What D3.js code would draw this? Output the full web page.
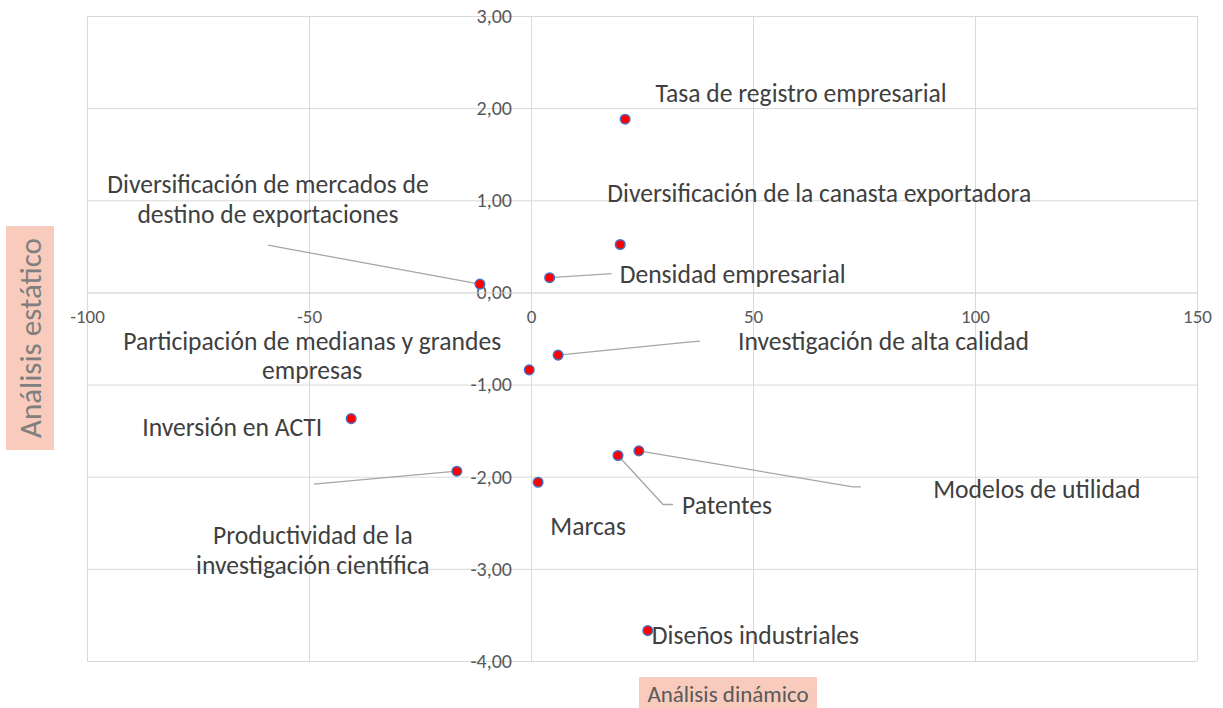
<!DOCTYPE html>
<html>
<head>
<meta charset="utf-8">
<script src="https://cdn.jsdelivr.net/npm/d3@7"></script>
<style>
  body { margin: 0; background: #fff; }
  svg text { font-family: Carlito, "Liberation Sans Narrow", "Open Sans", sans-serif; }
</style>
</head>
<body>
<svg id="chart" width="1223" height="708"></svg>
<script>
// indicator names, dynamic (x) and static (y) scores
const names = [
  'Tasa de registro empresarial',
  'Diversificación de la canasta exportadora',
  'Densidad empresarial',
  'Diversificación de mercados de destino de exportaciones',
  'Investigación de alta calidad',
  'Participación de medianas y grandes empresas',
  'Inversión en ACTI',
  'Productividad de la investigación científica',
  'Marcas',
  'Patentes',
  'Modelos de utilidad',
  'Diseños industriales'
];
const dinamico = [21.2, 20.1, 4.2, -11.5, 6.1, -0.4, -40.5, -16.7, 1.6, 19.6, 24.3, 26.3];
const estatico = [1.88, 0.52, 0.16, 0.09, -0.68, -0.84, -1.37, -1.94, -2.06, -1.77, -1.72, -3.67];

const xTicks = [-100, -50, 0, 50, 100, 150];
const yTicks = [3, 2, 1, 0, -1, -2, -3, -4];

// label text split into lines, as in the original chart
const labelLines = [
  ['Tasa de registro empresarial'],
  ['Diversificación de la canasta exportadora'],
  ['Densidad empresarial'],
  ['Diversificación de mercados de', 'destino de exportaciones'],
  ['Investigación de alta calidad'],
  ['Participación de medianas y grandes', 'empresas'],
  ['Inversión en ACTI'],
  ['Productividad de la', 'investigación científica'],
  ['Marcas'],
  ['Patentes'],
  ['Modelos de utilidad'],
  ['Diseños industriales']
];

const margin = {top: 16, right: 26, bottom: 47, left: 87};
const width = 1223 - margin.left - margin.right;
const height = 708 - margin.top - margin.bottom;

const svg = d3.select('#chart');
const g = svg.append('g').attr('transform', `translate(${margin.left},${margin.top})`);

const x = d3.scaleLinear().domain([-100, 150]).range([0, width]);
const y = d3.scaleLinear().domain([-4, 3]).range([height, 0]);

const locale = d3.formatLocale({decimal: ',', thousands: '.', grouping: [3], currency: ['$', ''], minus: '-'});
const fmtY = locale.format('.2f');
const fmtX = locale.format('d');

// label placement in pixels relative to the point
const labelPos = [
  {dx: 176, dy: -26, anchor: 'middle'},
  {dx: 199, dy: -51, anchor: 'middle'},
  {dx: 70, dy: -4, anchor: 'start'},
  {dx: -212, dy: -100, anchor: 'middle'},
  {dx: 180, dy: -14, anchor: 'start'},
  {dx: -217, dy: -29, anchor: 'middle'},
  {dx: -119, dy: 8, anchor: 'middle'},
  {dx: -144, dy: 64, anchor: 'middle'},
  {dx: 50, dy: 44, anchor: 'middle'},
  {dx: 64, dy: 50, anchor: 'start'},
  {dx: 398, dy: 38, anchor: 'middle'},
  {dx: 4, dy: 4, anchor: 'start'}
];

// leader lines: pixel offsets from the point
const leaders = [
  null, null,
  [[0, 0], [62, -4]],
  [[0, 0], [-212, -39]],
  [[0, 0], [130, -13], [142, -14]],
  null, null,
  [[0, 0], [-143, 13]],
  null,
  [[0, 0], [45, 49], [55, 49]],
  [[0, 0], [214, 36], [222, 36]],
  null
];

// gridlines
g.append('g')
  .attr('class', 'grid')
  .call(d3.axisLeft(y).tickValues(yTicks).tickSize(-width).tickFormat(''))
  .call(s => s.select('.domain').remove())
  .call(s => s.selectAll('line').attr('stroke', '#d9d9d9'));
g.append('g')
  .attr('class', 'grid')
  .attr('transform', `translate(0,${height})`)
  .call(d3.axisBottom(x).tickValues(xTicks).tickSize(-height).tickFormat(''))
  .call(s => s.select('.domain').remove())
  .call(s => s.selectAll('line').attr('stroke', '#d9d9d9'));

// axes through the origin
g.append('g')
  .attr('transform', `translate(${x(0)},0)`)
  .call(d3.axisLeft(y).tickValues(yTicks).tickSize(0).tickPadding(19).tickFormat(fmtY))
  .call(s => s.select('.domain').attr('stroke', '#d9d9d9'))
  .call(s => s.selectAll('text').attr('fill', '#595959').style('font-size', '20px'));
g.append('g')
  .attr('transform', `translate(0,${y(0)})`)
  .call(d3.axisBottom(x).tickValues(xTicks).tickSize(0).tickPadding(17).tickFormat(fmtX))
  .call(s => s.select('.domain').attr('stroke', '#d9d9d9'))
  .call(s => s.selectAll('text').attr('fill', '#595959').style('font-size', '19px'));

const pts = names.map((n, i) => ({name: n, x: dinamico[i], y: estatico[i], i}));

// leader lines
const line = d3.line();
g.selectAll('.leader')
  .data(pts.filter(d => leaders[d.i]))
  .join('path')
  .attr('class', 'leader')
  .attr('fill', 'none')
  .attr('stroke', '#a6a6a6')
  .attr('stroke-width', 1.3)
  .attr('d', d => line(leaders[d.i].map(([dx, dy]) => [x(d.x) + dx, y(d.y) + dy])));

// points
g.selectAll('.dot')
  .data(pts)
  .join('circle')
  .attr('class', 'dot')
  .attr('cx', d => x(d.x))
  .attr('cy', d => y(d.y))
  .attr('r', 4.8)
  .attr('fill', '#ff0000')
  .attr('stroke', '#4472c4')
  .attr('stroke-width', 1.5);

// data labels
const labels = g.selectAll('.lbl')
  .data(pts)
  .join('text')
  .attr('class', 'lbl')
  .attr('fill', '#404040')
  .style('font-size', '25.6px')
  .attr('text-anchor', d => labelPos[d.i].anchor)
  .attr('transform', d => `translate(${x(d.x) + labelPos[d.i].dx},${y(d.y) + labelPos[d.i].dy})`);
labels.selectAll('tspan')
  .data(d => labelLines[d.i])
  .join('tspan')
  .attr('x', 0)
  .attr('y', (t, k) => k * 29.5)
  .attr('dy', '0.35em')
  .text(t => t);

// axis titles
const yTitle = svg.append('g').attr('transform', 'translate(30,338) rotate(-90)');
yTitle.append('rect').attr('x', -112).attr('y', -24).attr('width', 224).attr('height', 48).attr('fill', '#f8cbbd');
yTitle.append('text')
  .attr('text-anchor', 'middle')
  .attr('dy', '0.35em')
  .attr('fill', '#7f7f7f')
  .style('font-size', '31px')
  .text('Análisis estático');

const xTitle = svg.append('g').attr('transform', 'translate(728,694)');
xTitle.append('rect').attr('x', -89).attr('y', -17).attr('width', 178).attr('height', 34).attr('fill', '#f8cbbd');
xTitle.append('text')
  .attr('text-anchor', 'middle')
  .attr('dy', '0.35em')
  .attr('fill', '#595959')
  .style('font-size', '23px')
  .text('Análisis dinámico');
</script>
</body>
</html>
